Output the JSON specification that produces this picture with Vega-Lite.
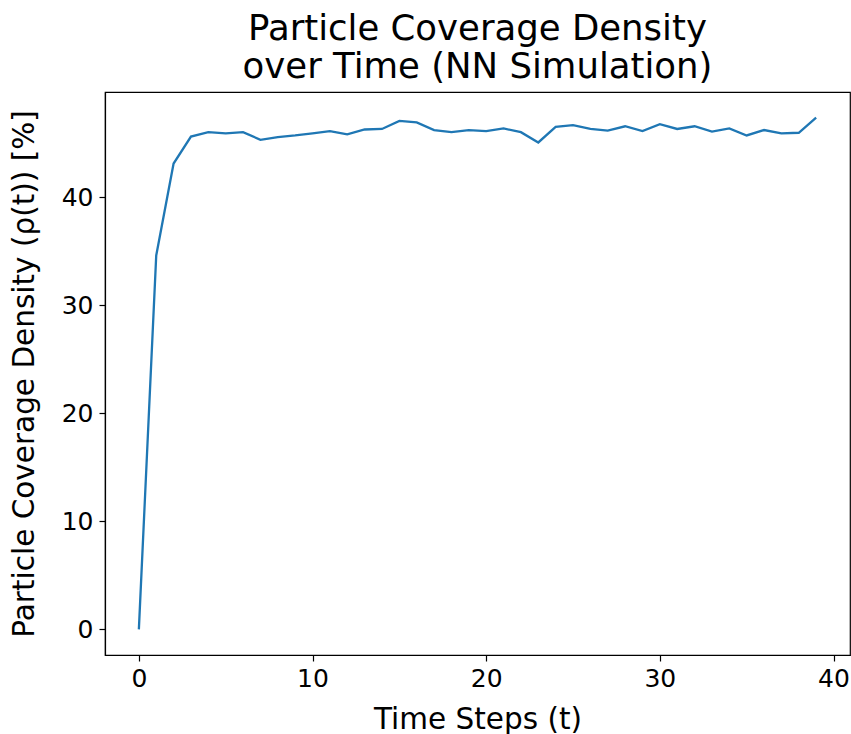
{
  "$schema": "https://vega.github.io/schema/vega-lite/v6.json",
  "width": 745,
  "height": 563,
  "autosize": "none",
  "padding": {"left": 105, "top": 92, "right": 1, "bottom": 79},
  "background": "white",
  "title": {
    "text": ["Particle Coverage Density\u2002", "\u2002over Time (NN Simulation)"],
    "font": "DejaVu Sans",
    "fontSize": 35.5,
    "fontWeight": "normal",
    "color": "black",
    "lineHeight": 38,
    "anchor": "middle",
    "offset": 7
  },
  "config": {
    "view": {"stroke": "black", "strokeWidth": 1.2},
    "axis": {
      "labelFont": "DejaVu Sans",
      "titleFont": "DejaVu Sans",
      "labelFontSize": 25,
      "titleFontSize": 29.5,
      "titleFontWeight": "normal",
      "labelColor": "black",
      "titleColor": "black",
      "domainColor": "black",
      "tickColor": "black",
      "tickSize": 6,
      "domainWidth": 1.2,
      "tickWidth": 1.2,
      "grid": false
    }
  },
  "data": {
    "values": [
      {"t": 0, "d": 0},
      {"t": 1, "d": 34.6},
      {"t": 2, "d": 43.1},
      {"t": 3, "d": 45.6},
      {"t": 4, "d": 46.0},
      {"t": 5, "d": 45.9},
      {"t": 6, "d": 46.0},
      {"t": 7, "d": 45.3},
      {"t": 8, "d": 45.55},
      {"t": 9, "d": 45.7},
      {"t": 10, "d": 45.9},
      {"t": 11, "d": 46.1},
      {"t": 12, "d": 45.8},
      {"t": 13, "d": 46.25},
      {"t": 14, "d": 46.3},
      {"t": 15, "d": 47.05},
      {"t": 16, "d": 46.9},
      {"t": 17, "d": 46.2},
      {"t": 18, "d": 46.0},
      {"t": 19, "d": 46.2},
      {"t": 20, "d": 46.1},
      {"t": 21, "d": 46.35},
      {"t": 22, "d": 46.0},
      {"t": 23, "d": 45.05},
      {"t": 24, "d": 46.5},
      {"t": 25, "d": 46.65},
      {"t": 26, "d": 46.3},
      {"t": 27, "d": 46.15},
      {"t": 28, "d": 46.55},
      {"t": 29, "d": 46.1},
      {"t": 30, "d": 46.75},
      {"t": 31, "d": 46.3},
      {"t": 32, "d": 46.55},
      {"t": 33, "d": 46.05},
      {"t": 34, "d": 46.35},
      {"t": 35, "d": 45.7},
      {"t": 36, "d": 46.2},
      {"t": 37, "d": 45.9},
      {"t": 38, "d": 45.95},
      {"t": 39, "d": 47.35}
    ]
  },
  "mark": {"type": "line", "color": "#1f77b4", "strokeWidth": 2.3},
  "encoding": {
    "x": {
      "field": "t",
      "type": "quantitative",
      "scale": {"domain": [-1.95, 40.95], "nice": false, "zero": false},
      "axis": {
        "title": "Time Steps (t)",
        "values": [0, 10, 20, 30, 40],
        "labelPadding": 5,
        "titleBaseline": "alphabetic",
        "titleY": 73
      }
    },
    "y": {
      "field": "d",
      "type": "quantitative",
      "scale": {"domain": [-2.37, 49.72], "nice": false, "zero": false},
      "axis": {
        "title": "Particle Coverage Density (ρ(t)) [%]",
        "values": [0, 10, 20, 30, 40],
        "labelPadding": 6,
        "titleAngle": 270,
        "titleBaseline": "alphabetic",
        "titleX": -72
      }
    }
  }
}
